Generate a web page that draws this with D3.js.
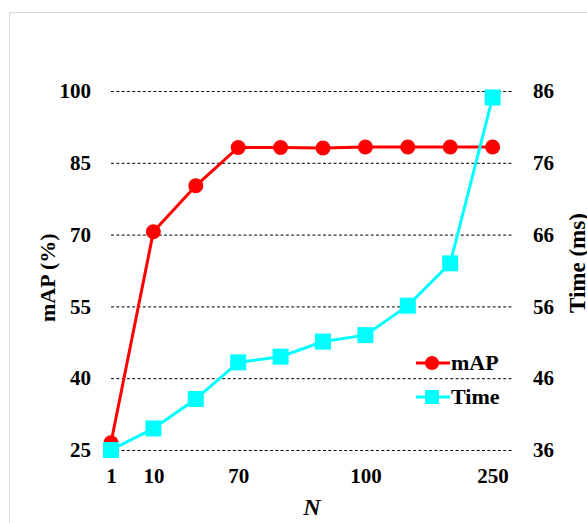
<!DOCTYPE html>
<html>
<head>
<meta charset="utf-8">
<script src="https://cdn.jsdelivr.net/npm/d3@7"></script>
<style>
  body { margin: 0; background: #fff; }
  text { font-family: "Liberation Serif", "Times New Roman", serif; font-weight: bold; }
</style>
</head>
<body>
<div id="chart"></div>
<script>
// N values, only some of them labelled on the axis
const nLabels = ["1", "10", "", "70", "", "", "100", "", "", "250"];
const mapValues = [26.5, 70.6, 80.2, 88.2, 88.2, 88.1, 88.3, 88.3, 88.3, 88.3];
const timeValues = [36.0, 39.0, 43.1, 48.2, 49.0, 51.1, 52.0, 56.1, 62.0, 85.1];
const mapTicks = [25, 40, 55, 70, 85, 100];
const timeTicks = [36, 46, 56, 66, 76, 86];

const width = 587, height = 523;
const plotLeft = 111, plotRight = 513, plotTop = 91, plotBottom = 450;
const tickFont = 21;

const svg = d3.select("#chart").append("svg")
    .attr("width", width)
    .attr("height", height)
    .attr("viewBox", [0, 0, width, height]);

// chart frame (cut off on the right and bottom)
svg.append("rect")
    .attr("x", 9.5).attr("y", 12.5)
    .attr("width", 640).attr("height", 560)
    .attr("fill", "none")
    .attr("stroke", "#d9d9d9");

const idx = d3.range(nLabels.length);
const xScale = d3.scalePoint(idx, [plotLeft, 492.6]);
const yLeft = d3.scaleLinear([25, 100], [plotBottom, plotTop]);
const yRight = d3.scaleLinear([36, 86], [plotBottom, plotTop]);

const styleTicks = g => g.selectAll(".tick text")
    .attr("font-size", tickFont)
    .attr("fill", "#000")
    .attr("font-family", null);

// left axis + dashed grid
svg.append("g")
    .attr("transform", `translate(${plotLeft},0)`)
    .call(d3.axisLeft(yLeft).tickValues(mapTicks).tickSize(0).tickPadding(20))
    .call(g => g.select(".domain").remove())
    .call(g => g.selectAll(".tick line").clone()
        .attr("x2", plotRight - plotLeft)
        .attr("stroke", "#000")
        .attr("stroke-dasharray", "3,2.3"))
    .call(styleTicks);

// right axis
svg.append("g")
    .attr("transform", `translate(${plotRight},0)`)
    .call(d3.axisRight(yRight).tickValues(timeTicks).tickSize(0).tickPadding(20))
    .call(g => g.select(".domain").remove())
    .call(styleTicks);

// x axis
svg.append("g")
    .attr("transform", `translate(0,${plotBottom})`)
    .call(d3.axisBottom(xScale).tickSize(0).tickPadding(18).tickFormat(i => nLabels[i]))
    .call(g => g.select(".domain").remove())
    .call(styleTicks);

// axis titles
svg.append("text")
    .attr("transform", "translate(55,322) rotate(-90)")
    .attr("text-anchor", "start")
    .attr("font-size", 22)
    .text("mAP (%)");

svg.append("text")
    .attr("transform", "translate(585,313) rotate(-90)")
    .attr("text-anchor", "start")
    .attr("font-size", 23)
    .text("Time (ms)");

svg.append("text")
    .attr("x", 312).attr("y", 515)
    .attr("text-anchor", "middle")
    .attr("font-size", 24)
    .attr("font-style", "italic")
    .text("N");

// mAP series
const mapLine = d3.line().x((d, i) => xScale(i)).y(d => yLeft(d));
svg.append("path")
    .attr("d", mapLine(mapValues))
    .attr("fill", "none")
    .attr("stroke", "#ff0000")
    .attr("stroke-width", 3);
svg.append("g").selectAll("circle")
    .data(mapValues)
    .join("circle")
    .attr("cx", (d, i) => xScale(i))
    .attr("cy", d => yLeft(d))
    .attr("r", 7.5)
    .attr("fill", "#ff0000");

// Time series
const timeLine = d3.line().x((d, i) => xScale(i)).y(d => yRight(d));
svg.append("path")
    .attr("d", timeLine(timeValues))
    .attr("fill", "none")
    .attr("stroke", "#00ffff")
    .attr("stroke-width", 3);
const sq = 16;
svg.append("g").selectAll("rect")
    .data(timeValues)
    .join("rect")
    .attr("x", (d, i) => xScale(i) - sq / 2)
    .attr("y", d => yRight(d) - sq / 2)
    .attr("width", sq)
    .attr("height", sq)
    .attr("fill", "#00ffff");

// legend
const legend = svg.append("g").attr("transform", "translate(416,363)");
const items = [
    { name: "mAP", color: "#ff0000", shape: "circle" },
    { name: "Time", color: "#00ffff", shape: "square" }
];
items.forEach((it, k) => {
    const g = legend.append("g").attr("transform", `translate(0,${k * 34})`);
    g.append("line").attr("x1", 0).attr("x2", 34)
        .attr("stroke", it.color).attr("stroke-width", 3);
    if (it.shape === "circle") {
        g.append("circle").attr("cx", 16).attr("r", 7).attr("fill", it.color);
    } else {
        g.append("rect").attr("x", 9).attr("y", -7).attr("width", 14).attr("height", 14)
            .attr("fill", it.color);
    }
    g.append("text").attr("x", 35).attr("y", 7)
        .attr("font-size", 22)
        .text(it.name);
});
</script>
</body>
</html>
